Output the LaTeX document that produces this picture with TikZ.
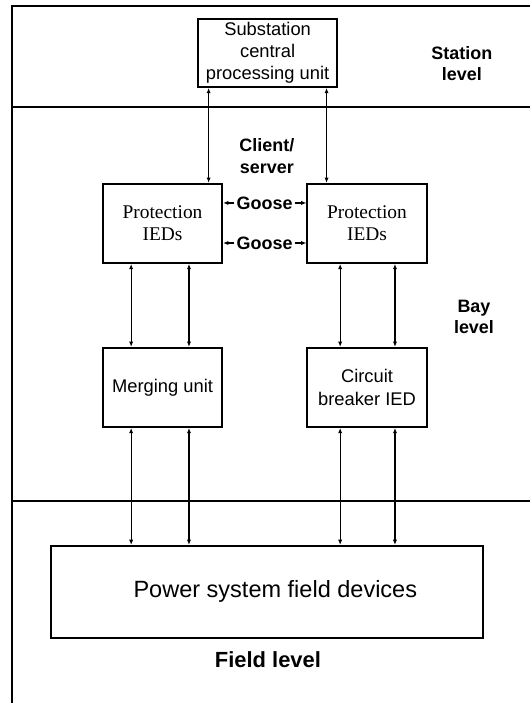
\documentclass[tikz,border=0pt]{standalone}
\usepackage{fontspec}
\setmainfont{Liberation Sans}
\newfontfamily\timesfont{Liberation Serif}
\usetikzlibrary{arrows.meta,positioning,calc}

\begin{document}
\begin{tikzpicture}[
  font=\fontsize{13.8}{16.8}\selectfont,
  >={Latex[length=4pt,width=3.2pt]},
  unit/.style={draw, line width=1.5pt, align=center, inner sep=1pt},
  level/.style={font=\fontsize{13.5}{16}\selectfont\bfseries, align=center},
  goose/.style={font=\fontsize{13.5}{16}\selectfont\bfseries, inner sep=1.5pt},
  frame/.style={line width=1.1pt},
  link/.style={<->, line width=0.95pt}
]
\useasboundingbox (0,0) rectangle (14.02,18.60);

% Level frame
\draw[frame] (0.32,0) -- (0.32,18.44) -- (14.02,18.44);
\draw[frame] (0.32,15.77) -- (14.02,15.77);
\draw[frame] (0.32,5.34) -- (14.02,5.34);

% Units
\node[unit, inner sep=0pt, minimum width=3.68cm, minimum height=1.80cm] (scpu) at (7.08,17.20) {Substation\\central\\processing unit};

\node[unit, minimum width=3.15cm, minimum height=2.09cm, font=\timesfont\fontsize{14.6}{17}\selectfont] (protA) at (4.30,12.69) {Protection\\IEDs};
\node[unit, minimum width=3.15cm, minimum height=2.09cm, font=\timesfont\fontsize{14.6}{17}\selectfont] (protB) at (9.71,12.69) {Protection\\IEDs};

\node[unit, minimum width=3.15cm, minimum height=2.09cm] (merg) at (4.30,8.35) {Merging unit};
\node[unit, minimum width=3.15cm, minimum height=2.09cm] (cbied) at (9.71,8.35) {Circuit\\breaker IED};

\node[unit, minimum width=11.43cm, minimum height=2.43cm, font=\fontsize{17.7}{21}\selectfont] (field) at (7.06,2.94) {\hspace*{0.45cm}Power system field devices};

% Level labels
\node[level] (stalvl) at (12.22,16.91) {Station\\level};
\node[level] (cs) at (7.06,14.47) {Client/\\server};
\node[level] (baylvl) at (12.54,10.21) {Bay\\level};
\node[level, font=\fontsize{16.5}{19}\selectfont\bfseries] (fldlvl) at (7.09,1.14) {Field level};

% Goose messages
\node[goose] (goose1) at (7.00,13.23) {Goose};
\node[goose] (goose2) at (7.00,12.17) {Goose};
\draw[->, line width=0.95pt] (goose1.west) -- (goose1.west -| protA.east);
\draw[->, line width=0.95pt] (goose1.east) -- (goose1.east -| protB.west);
\draw[->, line width=0.95pt] (goose2.west) -- (goose2.west -| protA.east);
\draw[->, line width=0.95pt] (goose2.east) -- (goose2.east -| protB.west);

% Station bus
\draw[link] ([xshift=-1.56cm]scpu.south) -- ([xshift=-1.56cm]scpu.south |- protA.north);
\draw[link] ([xshift=1.56cm]scpu.south) -- ([xshift=1.56cm]scpu.south |- protB.north);

% Bay links
\foreach \dx in {-0.83,0.70} {
  \draw[link] ([xshift=\dx cm]protA.south) -- ([xshift=\dx cm]merg.north);
  \draw[link] ([xshift=\dx cm]merg.south) -- ([xshift=\dx cm]merg.south |- field.north);
}
\foreach \dx in {-0.71,0.74} {
  \draw[link] ([xshift=\dx cm]protB.south) -- ([xshift=\dx cm]cbied.north);
  \draw[link] ([xshift=\dx cm]cbied.south) -- ([xshift=\dx cm]cbied.south |- field.north);
}
\end{tikzpicture}
\end{document}
